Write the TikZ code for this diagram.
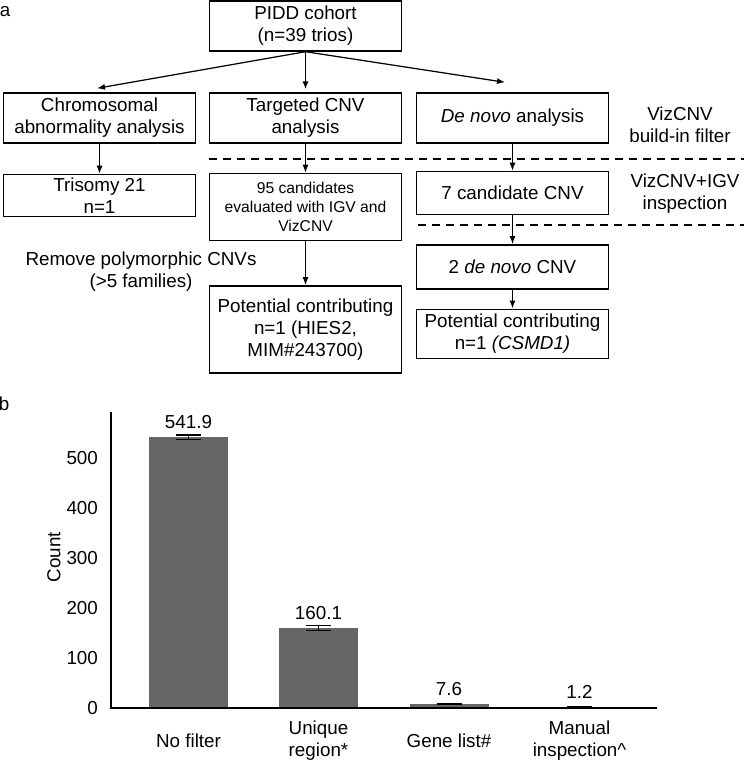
\documentclass[tikz,border=0pt]{standalone}
\usepackage{fontspec}
\setmainfont{Liberation Sans}
\usetikzlibrary{arrows.meta,positioning}
\definecolor{BarGray}{HTML}{666666}
\newcommand\mainsize{\fontsize{10.7}{12.5}\selectfont}
\newcommand\candsize{\fontsize{8.9}{10.8}\selectfont}
\tikzset{
  stage/.style={draw=black, line width=0.8pt, align=center, minimum width=38.4mm,
    minimum height=10mm, inner sep=1pt, font=\mainsize},
  note/.style={align=center, inner sep=1pt, font=\mainsize},
  wire/.style={-{Latex[length=1.6mm, width=1.2mm]}, line width=0.7pt},
  cut/.style={dash pattern=on 1.6mm off 1.2mm, line width=0.7pt},
  axis/.style={line width=0.75pt},
  errbar/.style={line width=0.85pt},
  ticklabel/.style={anchor=east, inner sep=1pt, font=\mainsize}
}

\begin{document}
\begin{tikzpicture}[x=0.2mm, y=-0.2mm]
  \useasboundingbox (0,0) rectangle (744,763);
  % panel a: filtering steps
  \node[note] (labela) at (5,12) {a};
  \node[stage] (pidd) at (305.5,26) {PIDD cohort\\(n=39 trios)};
  \node[stage] (chrom) at (99.5,118) {Chromosomal\\abnormality analysis};
  \node[stage] (targ) at (305.5,118) {Targeted CNV\\analysis};
  \node[stage] (denovo) at (512.5,118) {\textit{De novo} analysis};
  \node[stage, minimum height=8.4mm, below=6mm of chrom] (trisomy) {Trisomy 21\\n=1};
  \node[stage, minimum height=13.4mm, font=\candsize, below=5.8mm of targ] (cand95)
    {95 candidates\\evaluated with IGV and\\VizCNV};
  \node[stage, minimum height=17.4mm, below=8.8mm of cand95] (contribL)
    {Potential contributing\\n=1 (HIES2,\\MIM\#243700)};
  \node[stage, minimum height=8.6mm, below=5.4mm of denovo] (cand7) {7 candidate CNV};
  \node[stage, minimum height=8.8mm, below=5.8mm of cand7] (denovo2) {2 \textit{de novo} CNV};
  \node[stage, minimum height=9.8mm, below=3.8mm of denovo2] (contribR)
    {Potential contributing\\n=1 \textit{(CSMD1)}};
  \node[note] (filter) at (680,125) {VizCNV\\build-in filter};
  \node[note] (inspect) at (685,194) {VizCNV+IGV\\inspection};
  \node[note] (poly) at (141,272) {Remove polymorphic CNVs\\(>5 families)};
  \draw[cut] (209,159) -- (744,159);
  \draw[cut] (418,225) -- (744,225);
  \draw[wire] (pidd.south) -- ([xshift=-0.5mm, yshift=0.8mm]chrom.north);
  \draw[wire] (pidd.south) -- ([yshift=0.6mm]targ.north);
  \draw[wire] (pidd.south) -- ([xshift=-1.5mm, yshift=2mm]denovo.north);
  \draw[wire] (chrom) -- (trisomy);
  \draw[wire] (targ) -- (cand95);
  \draw[wire] (cand95) -- (contribL);
  \draw[wire] (denovo) -- (cand7);
  \draw[wire] (cand7) -- (denovo2);
  \draw[wire] (denovo2) -- (contribR);
  % panel b: counts per filter
  \node[note] (labelb) at (4,404) {b};
  \foreach \i/\x/\v/\e/\lab in {1/188.5/541.9/4.5/{No filter},
      2/318.5/160.1/5/{Unique\\region*}, 3/449/7.6/0.6/{Gene list\#},
      4/579.5/1.2/0.4/{Manual\\inspection\textasciicircum}}{
    \fill[BarGray] ({\x-39.5},708) rectangle ({\x+39.5},{708-0.5*\v});
    \draw[errbar] (\x,{708-0.5*(\v+\e)}) -- (\x,{708-0.5*(\v-\e)})
      ({\x-12.5},{708-0.5*(\v+\e)}) -- ({\x+12.5},{708-0.5*(\v+\e)})
      ({\x-12.5},{708-0.5*(\v-\e)}) -- ({\x+12.5},{708-0.5*(\v-\e)});
    \node[note] (val\i) at (\x,{708-0.5*\v-15}) {\v};
    \node[note] (cat\i) at (\x,741) {\lab};
  }
  \draw[axis] (111,412) |- (657,708);
  \foreach \t in {0,100,...,500}
    \node[ticklabel] (tick\t) at (100,{708-0.5*\t}) {\t};
  \node[note, rotate=90] (count) at (54,557) {Count};
\end{tikzpicture}
\end{document}
